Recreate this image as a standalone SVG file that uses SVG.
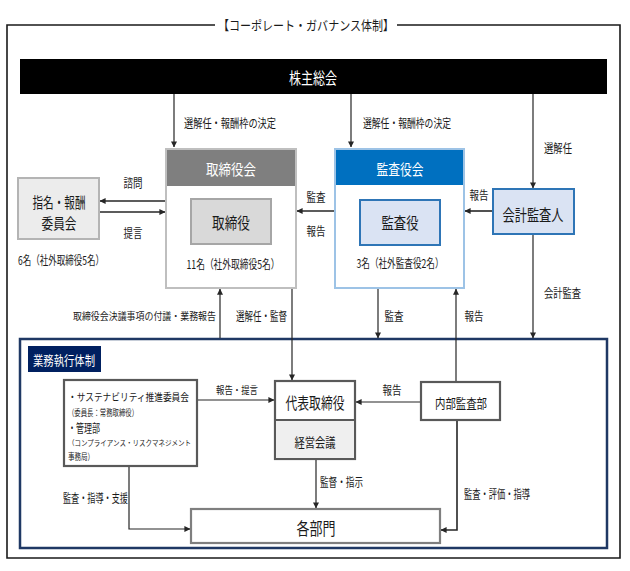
<svg xmlns="http://www.w3.org/2000/svg" width="630" height="571" viewBox="0 0 630 571">
<style>
text{font-family:"Noto Sans CJK JP","Noto Sans",sans-serif;fill:#1a1a1a;dominant-baseline:central}
.c{text-anchor:middle}
.w{fill:#fff}
.lb{font-size:11px}
.ln{stroke:#262626;stroke-width:1.2;fill:none}
.lt{stroke:#262626;stroke-width:1.6;fill:none}
.dk{fill:#fff;stroke:#595959;stroke-width:2.2}
</style>
<defs>
<marker id="ah" viewBox="0 0 8 8" refX="7.5" refY="4" markerWidth="6" markerHeight="6" markerUnits="userSpaceOnUse" orient="auto">
<path d="M0,0 L8,4 L0,8 z" fill="#262626"/>
</marker>
</defs>
<rect width="630" height="571" fill="#fff"/>
<g id="frame">
<path d="M215,25 H7 V558 H620 V25 H397" fill="none" stroke="#1a1a1a" stroke-width="1.6"/>
<text x="306" y="24" class="c" font-size="13" textLength="176" lengthAdjust="spacingAndGlyphs">【コーポレート・ガバナンス体制】</text>
</g>
<g id="shareholders">
<rect x="20" y="59" width="587" height="35" fill="#000"/>
<text x="313" y="77" class="c w" font-size="16" textLength="48" lengthAdjust="spacingAndGlyphs">株主総会</text>
</g>
<g id="exec-frame">
<rect x="20" y="339" width="587" height="209" fill="none" stroke="#1f3864" stroke-width="2.5"/>
<rect x="28" y="346" width="73" height="26" fill="#002060"/>
<text x="64" y="359" class="c w" font-size="13" textLength="62" lengthAdjust="spacingAndGlyphs">業務執行体制</text>
</g>
<g id="board">
<rect x="166" y="149" width="130" height="139" fill="#fff" stroke="#bfbfbf" stroke-width="2"/>
<rect x="167" y="150" width="128" height="36" fill="#7f7f7f"/>
<text x="231" y="168" class="c w" font-size="15" textLength="50" lengthAdjust="spacingAndGlyphs">取締役会</text>
<rect x="191" y="199" width="80" height="45" fill="#d9d9d9" stroke="#a6a6a6" stroke-width="2"/>
<text x="231" y="222" class="c" font-size="16" textLength="38" lengthAdjust="spacingAndGlyphs">取締役</text>
<text x="233" y="263" class="c" font-size="12" textLength="93" lengthAdjust="spacingAndGlyphs">11名（社外取締役5名）</text>
</g>
<g id="nomination">
<rect x="18" y="178" width="81" height="61" fill="#ececec" stroke="#b4b4b4" stroke-width="2"/>
<text x="59" y="201" class="c" font-size="15" textLength="53" lengthAdjust="spacingAndGlyphs">指名・報酬</text>
<text x="59" y="222" class="c" font-size="15" textLength="35" lengthAdjust="spacingAndGlyphs">委員会</text>
<text x="18" y="259" font-size="12" textLength="86" lengthAdjust="spacingAndGlyphs">6名（社外取締役5名）</text>
</g>
<g id="auditboard">
<rect x="335" y="149" width="129" height="139" fill="#fff" stroke="#9dc3e6" stroke-width="2"/>
<rect x="336" y="150" width="127" height="35" fill="#0070c0"/>
<text x="400" y="168" class="c w" font-size="15" textLength="47" lengthAdjust="spacingAndGlyphs">監査役会</text>
<rect x="360" y="200" width="80" height="45" fill="#dae3f3" stroke="#2e75b6" stroke-width="2"/>
<text x="400" y="222" class="c" font-size="16" textLength="37" lengthAdjust="spacingAndGlyphs">監査役</text>
<text x="400" y="262" class="c" font-size="12" textLength="87" lengthAdjust="spacingAndGlyphs">3名（社外監査役2名）</text>
</g>
<g id="accountant">
<rect x="493" y="189" width="81" height="45" fill="#dae3f3" stroke="#2e75b6" stroke-width="2"/>
<text x="533" y="214" class="c" font-size="16" textLength="61" lengthAdjust="spacingAndGlyphs">会計監査人</text>
</g>
<g id="sustainability">
<rect x="64" y="380" width="133" height="86" class="dk"/>
<text x="68" y="396" font-size="10.5" textLength="121" lengthAdjust="spacingAndGlyphs">・サステナビリティ推進委員会</text>
<text x="68" y="412" font-size="9" textLength="70" lengthAdjust="spacingAndGlyphs">（委員長：常務取締役）</text>
<text x="68" y="427" font-size="12" textLength="32" lengthAdjust="spacingAndGlyphs">・管理部</text>
<text x="68" y="442" font-size="7.5" textLength="123" lengthAdjust="spacingAndGlyphs">（コンプライアンス・リスクマネジメント</text>
<text x="68" y="456" font-size="9" textLength="26" lengthAdjust="spacingAndGlyphs">事務局）</text>
</g>
<g id="representative">
<rect x="275" y="381" width="80" height="78" class="dk"/>
<rect x="276" y="421" width="78" height="37" fill="#efefef"/>
<line x1="275" y1="420" x2="355" y2="420" stroke="#595959" stroke-width="2.2"/>
<text x="315" y="402" class="c" font-size="16" textLength="59" lengthAdjust="spacingAndGlyphs">代表取締役</text>
<text x="315" y="441" class="c" font-size="13" textLength="41" lengthAdjust="spacingAndGlyphs">経営会議</text>
</g>
<g id="internalaudit">
<rect x="421" y="382" width="79" height="38" class="dk"/>
<text x="461" y="402" class="c" font-size="13" textLength="52" lengthAdjust="spacingAndGlyphs">内部監査部</text>
</g>
<g id="departments">
<rect x="191" y="509" width="249" height="34" fill="#fff" stroke="#7f7f7f" stroke-width="2.2"/>
<text x="316" y="527" class="c" font-size="17" textLength="39" lengthAdjust="spacingAndGlyphs">各部門</text>
</g>
<g id="connectors">
<line x1="174" y1="94" x2="174" y2="147" class="ln" marker-end="url(#ah)"/>
<line x1="351" y1="94" x2="351" y2="147" class="ln" marker-end="url(#ah)"/>
<line x1="533" y1="94" x2="533" y2="188" class="ln" marker-end="url(#ah)"/>
<line x1="165" y1="201" x2="100" y2="201" class="lt" marker-end="url(#ah)"/>
<line x1="100" y1="212" x2="165" y2="212" class="lt" marker-end="url(#ah)"/>
<line x1="334" y1="211" x2="297" y2="211" class="lt" marker-end="url(#ah)"/>
<line x1="492" y1="211" x2="465" y2="211" class="lt" marker-end="url(#ah)"/>
<line x1="533" y1="235" x2="533" y2="338" class="ln" marker-end="url(#ah)"/>
<line x1="220" y1="338" x2="220" y2="289" class="ln" marker-end="url(#ah)"/>
<line x1="292" y1="289" x2="292" y2="380" class="ln" marker-end="url(#ah)"/>
<line x1="378" y1="289" x2="378" y2="338" class="ln" marker-end="url(#ah)"/>
<line x1="456" y1="381" x2="456" y2="289" class="ln" marker-end="url(#ah)"/>
<line x1="198" y1="400" x2="274" y2="400" class="ln" marker-end="url(#ah)"/>
<line x1="420" y1="402" x2="356" y2="402" class="ln" marker-end="url(#ah)"/>
<line x1="316" y1="460" x2="316" y2="508" class="ln" marker-end="url(#ah)"/>
<path d="M457,421 V530 H441" class="lt" marker-end="url(#ah)"/>
<path d="M129,467 V529 H190" class="ln" marker-end="url(#ah)"/>
</g>
<g id="labels" class="lb">
<text x="184" y="122" font-size="12" textLength="92" lengthAdjust="spacingAndGlyphs">選解任・報酬枠の決定</text>
<text x="363" y="122" font-size="12" textLength="88" lengthAdjust="spacingAndGlyphs">選解任・報酬枠の決定</text>
<text x="544" y="147" font-size="12" textLength="28" lengthAdjust="spacingAndGlyphs">選解任</text>
<text x="133" y="182" class="c" font-size="12" textLength="19" lengthAdjust="spacingAndGlyphs">諮問</text>
<text x="133" y="232" class="c" font-size="12" textLength="19" lengthAdjust="spacingAndGlyphs">提言</text>
<text x="316" y="196" class="c" font-size="12" textLength="19" lengthAdjust="spacingAndGlyphs">監査</text>
<text x="316" y="230" class="c" font-size="12" textLength="19" lengthAdjust="spacingAndGlyphs">報告</text>
<text x="479" y="194" class="c" font-size="12" textLength="19" lengthAdjust="spacingAndGlyphs">報告</text>
<text x="544" y="292" font-size="12" textLength="37" lengthAdjust="spacingAndGlyphs">会計監査</text>
<text x="73" y="315" font-size="10" textLength="143" lengthAdjust="spacingAndGlyphs">取締役会決議事項の付議・業務報告</text>
<text x="236" y="315" font-size="12" textLength="51" lengthAdjust="spacingAndGlyphs">選解任・監督</text>
<text x="394" y="315" class="c" font-size="12" textLength="19" lengthAdjust="spacingAndGlyphs">監査</text>
<text x="474" y="315" class="c" font-size="12" textLength="19" lengthAdjust="spacingAndGlyphs">報告</text>
<text x="237" y="389" class="c" font-size="10" textLength="42" lengthAdjust="spacingAndGlyphs">報告・提言</text>
<text x="392" y="389" class="c" font-size="12" textLength="19" lengthAdjust="spacingAndGlyphs">報告</text>
<text x="63" y="497" font-size="12" textLength="65" lengthAdjust="spacingAndGlyphs">監査・指導・支援</text>
<text x="320" y="481" font-size="12" textLength="43" lengthAdjust="spacingAndGlyphs">監督・指示</text>
<text x="464" y="493" font-size="12" textLength="66" lengthAdjust="spacingAndGlyphs">監査・評価・指導</text>
</g>
</svg>
